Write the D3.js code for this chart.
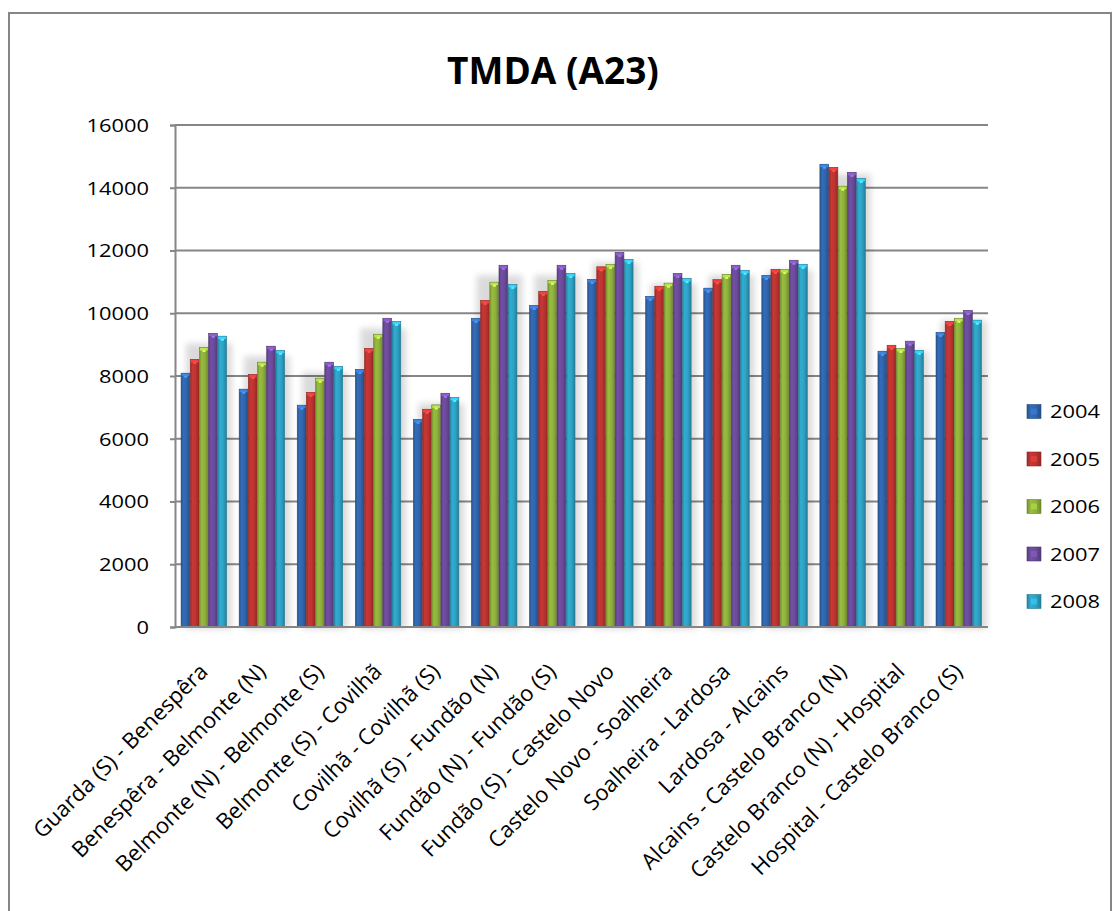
<!DOCTYPE html>
<html><head><meta charset="utf-8">
<script src="https://cdn.jsdelivr.net/npm/d3@7"></script>
<style>html,body{margin:0;padding:0;background:#fff;}svg{display:block;}</style>
</head><body>
<svg id="c" width="1115" height="911"></svg>
<script>
const categories = ["Guarda (S) - Benespêra","Benespêra - Belmonte (N)","Belmonte (N) - Belmonte (S)","Belmonte (S) - Covilhã","Covilhã - Covilhã (S)","Covilhã (S) - Fundão (N)","Fundão (N) - Fundão (S)","Fundão (S) - Castelo Novo","Castelo Novo - Soalheira","Soalheira - Lardosa","Lardosa - Alcains","Alcains - Castelo Branco (N)","Castelo Branco (N) - Hospital","Hospital - Castelo Branco (S)"];
const years = ["2004","2005","2006","2007","2008"];
const v2004 = [8090,7580,7070,8210,6620,9840,10250,11080,10540,10800,11210,14750,8790,9390];
const v2005 = [8530,8050,7480,8880,6940,10410,10700,11480,10860,11070,11400,14650,8980,9740];
const v2006 = [8910,8440,7930,9330,7080,10990,11050,11560,10960,11240,11390,14050,8880,9840];
const v2007 = [9360,8950,8440,9840,7450,11530,11530,11940,11270,11530,11690,14490,9110,10090];
const v2008 = [9270,8820,8310,9740,7320,10920,11270,11720,11110,11370,11560,14300,8820,9780];
const yTicks = [0,2000,4000,6000,8000,10000,12000,14000,16000];
const title = "TMDA (A23)";

const series = [v2004,v2005,v2006,v2007,v2008];
const colors = ["#3066ae","#be3431","#90b23c","#6c4b9b","#2ea3c6"];

const svg = d3.select("#c");
const font = "'Open Sans', 'Noto Sans', sans-serif";

// outer chart border
svg.append("rect").attr("x",9).attr("y",13).attr("width",1102).attr("height",920)
  .attr("fill","#fff").attr("stroke","#868686").attr("stroke-width",2);

const L=175, R=988, T=125, B=627;
const x = d3.scaleBand().domain(categories).range([L,R]).paddingInner(0.21).paddingOuter(0.105);
const xs = d3.scaleBand().domain(years).range([0,x.bandwidth()]).padding(0);
const y = d3.scaleLinear().domain([0,16000]).range([B,T]);

const defs = svg.append("defs");
colors.forEach((c,i)=>{
  const g = defs.append("linearGradient").attr("id","g"+i).attr("x1","0").attr("x2","1").attr("y1","0").attr("y2","0");
  const base = d3.color(c);
  g.append("stop").attr("offset","0").attr("stop-color",base.darker(0.6));
  g.append("stop").attr("offset","0.25").attr("stop-color",base.brighter(0.15));
  g.append("stop").attr("offset","0.6").attr("stop-color",base);
  g.append("stop").attr("offset","1").attr("stop-color",base.darker(0.7));
});
const f = defs.append("filter").attr("id","sh").attr("x","-20%").attr("y","-5%").attr("width","160%").attr("height","120%");
f.append("feGaussianBlur").attr("stdDeviation",3);

// gridlines
svg.append("g").selectAll("line").data(yTicks.filter(d=>d>0)).join("line")
  .attr("x1",L).attr("x2",R).attr("y1",d=>y(d)).attr("y2",d=>y(d))
  .attr("stroke","#868686").attr("stroke-width",2);

// y axis
const ya = svg.append("g").attr("transform",`translate(${L},0)`)
  .call(d3.axisLeft(y).tickValues(yTicks).tickSize(5).tickFormat(d=>d));
ya.select(".domain").attr("stroke","#868686").attr("stroke-width",2);
ya.selectAll(".tick line").attr("stroke","#868686").attr("stroke-width",2);
ya.selectAll(".tick text").remove();
svg.append("g").selectAll("text").data(yTicks).join("text")
  .attr("transform",d=>`translate(149,${y(d)}) scale(1.15,1)`)
  .attr("text-anchor","end").attr("dy","0.36em")
  .attr("font-family",font).attr("font-size",19).attr("fill","#000").text(d=>d);

// shadows
svg.append("g").selectAll("rect").data(categories).join("rect")
  .attr("x",(d)=>x(d)+5).attr("width",x.bandwidth())
  .attr("y",(d,i)=>y(d3.max(series,s=>s[i]))+10)
  .attr("height",(d,i)=>B-y(d3.max(series,s=>s[i]))-8)
  .attr("fill","#000").attr("opacity",0.14).attr("filter","url(#sh)");

// bars
const gb = svg.append("g");
series.forEach((s,si)=>{
  const bg = gb.append("g");
  bg.selectAll("rect.bar").data(s).join("rect").attr("class","bar")
    .attr("x",(d,i)=>x(categories[i])+xs(years[si]))
    .attr("width",xs.bandwidth()-0.4)
    .attr("y",d=>y(d)).attr("height",d=>B-y(d))
    .attr("fill",`url(#g${si})`).attr("stroke",d3.color(colors[si]).darker(0.8)).attr("stroke-width",0.6);
  bg.selectAll("rect.cap").data(s).join("rect").attr("class","cap")
    .attr("x",(d,i)=>x(categories[i])+xs(years[si])+0.5)
    .attr("width",xs.bandwidth()-1.4)
    .attr("y",d=>y(d)+0.5).attr("height",2.5)
    .attr("fill",d3.color(colors[si]).brighter(0.7));
  bg.selectAll("rect.dot").data(s).join("rect").attr("class","dot")
    .attr("x",(d,i)=>x(categories[i])+xs(years[si])+xs.bandwidth()/2-1.5)
    .attr("width",3)
    .attr("y",d=>y(d)+2.5).attr("height",2)
    .attr("fill",d3.color(colors[si]).brighter(1.2));
});

// bottom axis line
svg.append("line").attr("x1",L).attr("x2",R).attr("y1",B).attr("y2",B)
  .attr("stroke","#868686").attr("stroke-width",2);

// category labels
svg.append("g").selectAll("text").data(categories).join("text")
  .attr("transform",d=>`translate(${x(d)+x.bandwidth()/2+5},673) rotate(-45)`)
  .attr("text-anchor","end").attr("font-family",font).attr("font-size",22).attr("fill","#000")
  .text(d=>d);

// title
svg.append("text").attr("x",553).attr("y",84).attr("text-anchor","middle")
  .attr("font-family",font).attr("font-weight","bold").attr("font-size",37).attr("fill","#000").text(title);

// legend
const lg = svg.append("g");
years.forEach((yr,i)=>{
  const cy = 411.5 + i*47.5;
  lg.append("rect").attr("x",1027).attr("y",cy-7).attr("width",14).attr("height",14)
    .attr("fill",`url(#g${i})`).attr("stroke",d3.color(colors[i]).darker(0.8)).attr("stroke-width",0.6);
  lg.append("rect").attr("x",1031).attr("y",cy-3).attr("width",6).attr("height",6)
    .attr("fill",d3.color(colors[i]).brighter(0.6)).attr("opacity",0.7);
  lg.append("text").attr("transform",`translate(1050,${cy}) scale(1.15,1)`).attr("dy","0.36em")
    .attr("font-family",font).attr("font-size",19).attr("fill","#000").text(yr);
});
</script>
</body></html>
